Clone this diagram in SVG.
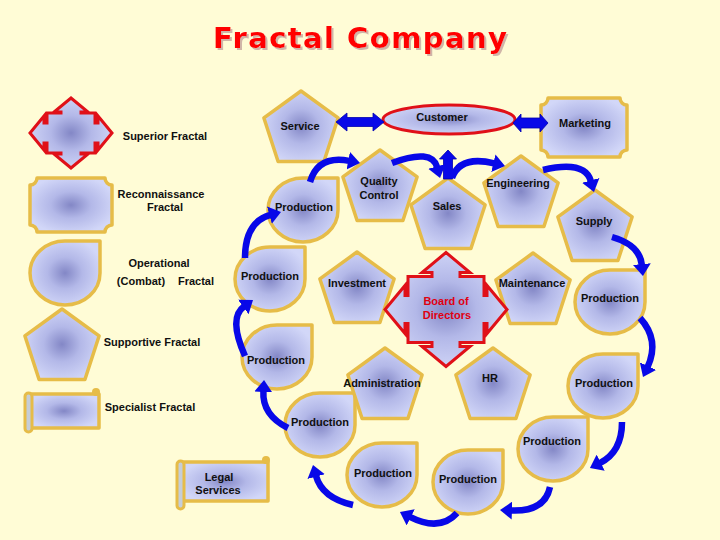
<svg xmlns="http://www.w3.org/2000/svg" xmlns:xlink="http://www.w3.org/1999/xlink" width="720" height="540" viewBox="0 0 720 540">
<defs>
<radialGradient id="g" cx="0.5" cy="0.5" r="0.55">
<stop offset="0" stop-color="#8387C6"/>
<stop offset="0.45" stop-color="#B3B8E8"/>
<stop offset="1" stop-color="#D2D7F8"/>
</radialGradient>
<filter id="sh" x="-5%" y="-20%" width="115%" height="150%">
<feOffset in="SourceAlpha" dx="2" dy="2" result="o"/>
<feFlood flood-color="#C8A8A0" flood-opacity="0.85"/>
<feComposite in2="o" operator="in" result="s"/>
<feMerge><feMergeNode in="s"/><feMergeNode in="SourceGraphic"/></feMerge>
</filter>
<path id="pent" d="M0,-39 L37.09,-12.05 L22.92,31.55 L-22.92,31.55 L-37.09,-12.05 Z"/>
<path id="drop" d="M35,0 H70 V32 A35,32 0 0 1 35,64 A35,32 0 0 1 0,32 A35,32 0 0 1 35,0 Z"/>
<marker id="ah" markerUnits="userSpaceOnUse" viewBox="0 0 12 18" markerWidth="12" markerHeight="18" refX="1" refY="9" orient="auto">
<path d="M0,0 L12,9 L0,18 Z" fill="#0808E8"/>
</marker>
<style>
.n{fill:url(#g);stroke:#E6BC48;stroke-width:3.5;stroke-linejoin:round}
.r{fill:url(#g);stroke:#E01018;stroke-width:3;stroke-linejoin:miter}
.t{font-family:"Liberation Sans",Arial,sans-serif;font-weight:bold;font-size:11px;text-anchor:middle;fill:#101010}
.red{fill:#E00010}
.c{fill:none;stroke:#0808E8;stroke-width:6.5;marker-end:url(#ah)}
.d{fill:#0808E8;stroke:#0000B0;stroke-width:0.8}
</style>
</defs>
<rect width="720" height="540" fill="#FFFCD6"/>
<g id="title">
<text x="360" y="48" font-family="DejaVu Sans, sans-serif" font-weight="bold" font-size="29" text-anchor="middle" textLength="294" fill="#FF0000" filter="url(#sh)">Fractal Company</text>
</g>
<g id="legend-superior">
<path class="r" transform="translate(71,133)" d="M-10,-20 V-21 H-17 L0,-35 L17,-21 H10 V-20 H24 V-10 H27 V-17 L41,0 L27,17 V10 H24 V20 H10 V21 H17 L0,35 L-17,21 H-10 V20 H-24 V10 H-27 V17 L-41,0 L-27,-17 V-10 H-24 V-20 Z"/>
<text class="t" x="165" y="140">Superior Fractal</text>
</g>
<g id="legend-reconnaissance">
<path class="n" d="M37,178 H105 A7,7 0 0 0 112,185 V225 A7,7 0 0 0 105,232 H37 A7,7 0 0 0 30,225 V185 A7,7 0 0 0 37,178 Z"/>
<text class="t" x="161" y="198">Reconnaissance</text>
<text class="t" x="165" y="211">Fractal</text>
</g>
<g id="legend-operational">
<use href="#drop" class="n" x="30" y="241"/>
<text class="t" x="159" y="267">Operational</text>
<text class="t" x="141" y="285">(Combat)</text>
<text class="t" x="196" y="285">Fractal</text>
</g>
<g id="legend-supportive">
<use href="#pent" class="n" x="62" y="348"/>
<text class="t" x="152" y="346">Supportive Fractal</text>
</g>
<g id="legend-specialist">
<rect class="n" x="29" y="394" width="70" height="34"/>
<rect x="92" y="388" width="8" height="8" rx="4" fill="#E6BC48"/>
<rect x="25" y="393" width="7" height="39" rx="3.5" fill="#C5CDD8" stroke="#E6BC48" stroke-width="3"/>
<text class="t" x="150" y="411">Specialist Fractal</text>
</g>
<g id="service">
<use href="#pent" class="n" x="301" y="130"/>
<text class="t" x="300" y="130">Service</text>
</g>
<g id="customer">
<ellipse class="r" cx="449" cy="119.5" rx="66" ry="14.5" stroke-width="2.5"/>
<text class="t" x="442" y="121">Customer</text>
</g>
<g id="marketing">
<path class="n" d="M548,98 H620 A7,7 0 0 0 627,105 V150 A7,7 0 0 0 620,157 H548 A7,7 0 0 0 541,150 V105 A7,7 0 0 0 548,98 Z"/>
<text class="t" x="585" y="127">Marketing</text>
</g>
<g id="quality-control">
<use href="#pent" class="n" x="380" y="189"/>
<text class="t" x="379" y="185">Quality</text>
<text class="t" x="379" y="199">Control</text>
</g>
<g id="sales">
<use href="#pent" class="n" x="448" y="217"/>
<text class="t" x="447" y="210">Sales</text>
</g>
<g id="engineering">
<use href="#pent" class="n" x="521" y="195"/>
<text class="t" x="518" y="187">Engineering</text>
</g>
<g id="supply">
<use href="#pent" class="n" x="595" y="229"/>
<text class="t" x="594" y="225">Supply</text>
</g>
<g id="production-1">
<use href="#drop" class="n" x="268" y="178"/>
<text class="t" x="304" y="211">Production</text>
</g>
<g id="production-2">
<use href="#drop" class="n" x="235" y="247"/>
<text class="t" x="270" y="280">Production</text>
</g>
<g id="production-3">
<use href="#drop" class="n" x="242" y="325"/>
<text class="t" x="276" y="364">Production</text>
</g>
<g id="production-4">
<use href="#drop" class="n" x="285" y="393"/>
<text class="t" x="320" y="426">Production</text>
</g>
<g id="production-5">
<use href="#drop" class="n" x="347" y="443"/>
<text class="t" x="383" y="477">Production</text>
</g>
<g id="production-6">
<use href="#drop" class="n" x="433" y="450"/>
<text class="t" x="468" y="483">Production</text>
</g>
<g id="production-7">
<use href="#drop" class="n" x="518" y="417"/>
<text class="t" x="552" y="445">Production</text>
</g>
<g id="production-8">
<use href="#drop" class="n" x="568" y="354"/>
<text class="t" x="604" y="387">Production</text>
</g>
<g id="production-9">
<use href="#drop" class="n" x="575" y="270"/>
<text class="t" x="610" y="302">Production</text>
</g>
<g id="investment">
<use href="#pent" class="n" x="357" y="291"/>
<text class="t" x="357" y="287">Investment</text>
</g>
<g id="maintenance">
<use href="#pent" class="n" x="533" y="292"/>
<text class="t" x="532" y="287">Maintenance</text>
</g>
<g id="board-of-directors">
<path class="r" transform="translate(446,309.5)" d="M-14,-33 V-37 H-24 L0,-57 L24,-37 H14 V-33 H38 V-14 H41 V-24 L61,0 L41,24 V14 H38 V33 H14 V37 H24 L0,57 L-24,37 H-14 V33 H-38 V14 H-41 V24 L-61,0 L-41,-24 V-14 H-38 V-33 Z"/>
<text class="t red" x="446" y="305">Board of</text>
<text class="t red" x="447" y="319">Directors</text>
</g>
<g id="administration">
<use href="#pent" class="n" x="385" y="387"/>
<text class="t" x="382" y="387">Administration</text>
</g>
<g id="hr">
<use href="#pent" class="n" x="493" y="387"/>
<text class="t" x="490" y="382">HR</text>
</g>
<g id="legal-services">
<rect class="n" x="182" y="462" width="86" height="39"/>
<rect x="262" y="456" width="8" height="8" rx="4" fill="#E6BC48"/>
<rect x="177" y="461" width="7" height="48" rx="3.5" fill="#C5CDD8" stroke="#E6BC48" stroke-width="3"/>
<text class="t" x="219" y="481">Legal</text>
<text class="t" x="218" y="494">Services</text>
</g>
<g id="connectors">
<path class="d" d="M336,122 L347,113 L347,117.5 L373,117.5 L373,113 L384,122 L373,131 L373,126.5 L347,126.5 L347,131 Z"/>
<path class="d" d="M513,123 L521,114 L521,118 L540,118 L540,114 L548,123 L540,132 L540,128 L521,128 L521,132 Z"/>
<path class="d" d="M448,150 L456.5,159 L452.5,159 L452.5,179 L443.5,179 L443.5,159 L439.5,159 Z"/>
<path class="c" d="M310,182 Q318,155 349.2,160.9"/>
<path class="c" d="M392,163 Q432,148 437.2,167.4"/>
<path class="c" d="M452,178 Q460,155 494.3,163.4"/>
<path class="c" d="M543,170 Q585,160 591,181.4"/>
<path class="c" d="M612,237 Q640,245 641.9,265.1"/>
<path class="c" d="M640,318 Q660,340 647.6,367"/>
<path class="c" d="M622,422 Q622,452 599.8,463.1"/>
<path class="c" d="M550,487 Q545,512 511,510.5"/>
<path class="c" d="M457,513 Q440,532 409.8,516.9"/>
<path class="c" d="M353,505 Q322,498 315.9,475.6"/>
<path class="c" d="M288,428 Q262,415 263.4,391"/>
<path class="c" d="M245,356 Q228,318 244.1,306.4"/>
<path class="c" d="M245,258 Q245,222 270.4,214.9"/>
</g>
</svg>
